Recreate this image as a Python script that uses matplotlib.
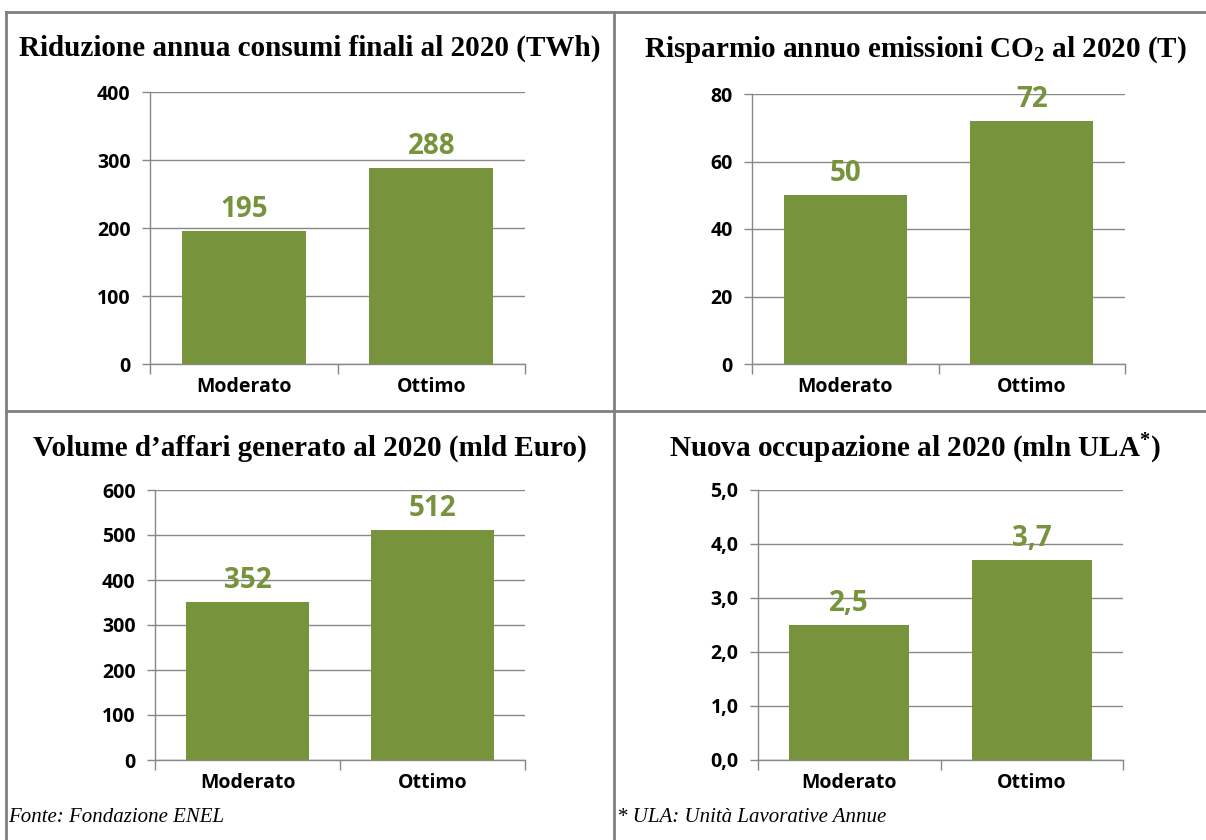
import matplotlib.pyplot as plt
from matplotlib.lines import Line2D
from matplotlib.ticker import FixedLocator

plt.rcParams['mathtext.default'] = 'regular'

GREEN = '#77933C'
GRID = '#888888'
SANS = 'Open Sans'

categories = ['Moderato', 'Ottimo']

consumi = [195, 288]
emissioni = [50, 72]
affari = [352, 512]
occupazione = [2.5, 3.7]

titles = [
    'Riduzione annua consumi finali al 2020 (TWh)',
    'Risparmio annuo emissioni CO$_{2}$ al 2020 (T)',
    'Volume d\u2019affari generato al 2020 (mld Euro)',
    'Nuova occupazione al 2020 (mln ULA$^{*}$)',
]

yticks_1 = [0, 100, 200, 300, 400]
yticks_2 = [0, 20, 40, 60, 80]
yticks_3 = [0, 100, 200, 300, 400, 500, 600]
yticks_4 = [0.0, 1.0, 2.0, 3.0, 4.0, 5.0]


def fmt_int(v):
    return f'{v:.0f}'


def fmt_comma(v):
    return f'{v:.1f}'.replace('.', ',')


fig = plt.figure(figsize=(12.06, 8.4), dpi=100)
W, H = 1206, 840


def box(l, r, b, t):
    return [l / W, 1 - b / H, (r - l) / W, (b - t) / H]


panels = [
    (box(150, 525, 364, 92), consumi, yticks_1, fmt_int, titles[0], (310, 48)),
    (box(752, 1125, 364, 94), emissioni, yticks_2, fmt_int, titles[1], (915, 50)),
    (box(155, 525, 760, 490), affari, yticks_3, fmt_int, titles[2], (310, 448)),
    (box(758, 1123, 760, 490), occupazione, yticks_4, fmt_comma, titles[3], (915, 449)),
]

for rect, vals, yt, fmt, title, tpos in panels:
    ax = fig.add_axes(rect)
    x = range(len(categories))
    ax.bar(x, vals, width=0.66, color=GREEN, zorder=3)
    ax.set_xlim(-0.5, len(categories) - 0.5)
    ax.set_ylim(yt[0], yt[-1])
    ax.set_yticks(yt)
    ax.set_yticklabels([fmt(v) for v in yt], family=SANS, fontweight='bold',
                       fontsize=14)
    ax.set_xticks(list(x))
    ax.set_xticklabels(categories, family=SANS, fontweight='bold', fontsize=14)
    ax.xaxis.set_minor_locator(FixedLocator([-0.5, 0.5, 1.5]))
    ax.tick_params(axis='x', which='major', length=0, pad=9)
    ax.tick_params(axis='x', which='minor', length=7, color=GRID, width=1)
    ax.tick_params(axis='y', length=6, color=GRID, width=1, pad=8)
    ax.grid(axis='y', color=GRID, lw=1, zorder=0)
    ax.set_axisbelow(True)
    for s in ('top', 'right'):
        ax.spines[s].set_visible(False)
    for s in ('left', 'bottom'):
        ax.spines[s].set_color(GRID)
        ax.spines[s].set_linewidth(1)
    for xi, v in zip(x, vals):
        ax.annotate(fmt(v), (xi, v), xytext=(0, 5), textcoords='offset points',
                    ha='center', va='bottom', color=GREEN, fontsize=20,
                    fontweight='bold', family=SANS, zorder=4)
    fig.text(tpos[0] / W, 1 - tpos[1] / H, title, ha='center', va='center',
             family='Liberation Serif', fontweight='bold', fontsize=21)

# table borders
border = dict(color='#808080', lw=2, transform=fig.transFigure)
fig.add_artist(Line2D([6 / W, 1], [1 - 12 / H] * 2, **border))
fig.add_artist(Line2D([6 / W, 1], [1 - 411 / H] * 2, **border))
fig.add_artist(Line2D([6 / W] * 2, [0, 1 - 12 / H], **border))
fig.add_artist(Line2D([614 / W] * 2, [0, 1 - 12 / H], **border))

fig.text(8 / W, 1 - 818 / H, 'Fonte: Fondazione ENEL', ha='left', va='center',
         family='Liberation Serif', style='italic', fontsize=15)
fig.text(617 / W, 1 - 818 / H, '* ULA: Unit\u00e0 Lavorative Annue', ha='left',
         va='center', family='Liberation Serif', style='italic', fontsize=15)

fig.savefig('out.png', dpi=100)
